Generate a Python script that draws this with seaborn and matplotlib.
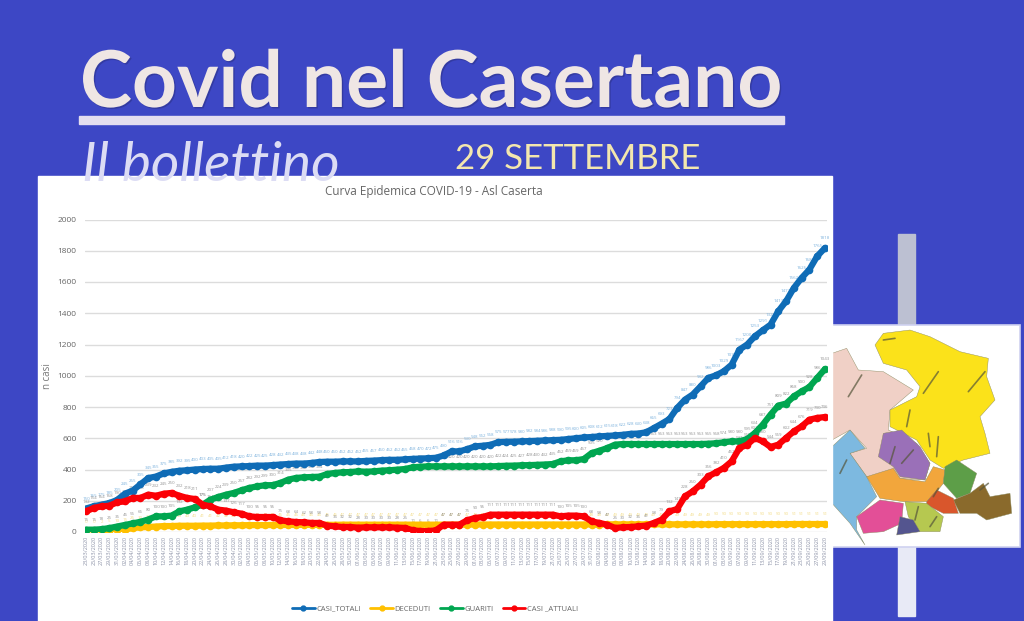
import pandas as pd
import seaborn as sns
from matplotlib import pyplot as plt
from matplotlib.patches import Polygon, Rectangle
import matplotlib.patheffects as pe

# values, one every 2 days
date_labels = list(pd.date_range("2020-03-23", periods=96, freq="2D").strftime("%d/%m/%Y"))

casi_totali = [150, 165, 175, 185, 205, 245, 265, 305, 345, 355,
               375, 385, 392, 395, 400, 403, 405, 405, 412, 418,
               420, 422, 425, 425, 428, 432, 435, 438, 438, 442,
               448, 450, 450, 452, 452, 452, 455, 457, 460, 462,
               462, 465, 468, 470, 472, 475, 490, 516, 516, 530,
               548, 552, 558, 575, 577, 578, 580, 582, 584, 586,
               588, 590, 595, 600, 605, 608, 612, 615, 618, 622,
               628, 630, 638, 665, 693, 723, 794, 847, 880, 932,
               986, 1003, 1029, 1071, 1167, 1200, 1253, 1291, 1327, 1413,
               1477, 1562, 1626, 1680, 1765, 1818]
deceduti = [0, 0, 2, 5, 10, 15, 25, 30, 32, 35,
            38, 38, 40, 40, 40, 41, 41, 42, 42, 43,
            43, 44, 44, 44, 45, 45, 45, 45, 46, 46,
            46, 46, 46, 47, 47, 47, 47, 47, 47, 47,
            47, 47, 47, 47, 47, 47, 47, 47, 47, 47,
            48, 48, 48, 48, 48, 48, 48, 48, 48, 48,
            48, 48, 48, 48, 48, 48, 48, 49, 49, 49,
            49, 49, 49, 49, 49, 49, 49, 49, 49, 49,
            49, 50, 50, 50, 50, 50, 50, 50, 50, 50,
            50, 51, 51, 51, 51, 51]
guariti = [15, 15, 18, 25, 35, 45, 55, 65, 80, 100,
           100, 105, 132, 143, 158, 175, 207, 224, 239, 250,
           267, 282, 292, 299, 300, 314, 335, 346, 350, 352,
           354, 371, 378, 382, 384, 388, 386, 388, 393, 395,
           399, 403, 414, 418, 420, 420, 420, 420, 420, 420,
           420, 420, 420, 422, 424, 425, 427, 428, 430, 432,
           435, 452, 459, 459, 467, 505, 520, 537, 559, 563,
           563, 563, 563, 563, 563, 563, 563, 563, 563, 563,
           565, 568, 574, 580, 580, 595, 634, 687, 751, 809,
           822, 868, 900, 928, 986, 1043]
casi_attuali = [132, 154, 164, 168, 190, 196, 218, 218, 239, 232,
                245, 250, 232, 218, 211, 175, 164, 143, 137, 126,
                117, 100, 96, 96, 96, 75, 68, 64, 62, 58,
                58, 41, 36, 32, 32, 28, 30, 30, 30, 30,
                28, 26, 11, 6, 6, 11, 47, 47, 47, 75,
                90, 96, 111, 111, 111, 111, 111, 111, 111, 111,
                111, 100, 105, 105, 100, 68, 58, 47, 26, 30,
                32, 36, 41, 58, 79, 132, 147, 228, 260, 303,
                356, 382, 410, 452, 537, 559, 602, 580, 544, 559,
                602, 644, 676, 719, 730, 736]

y_ticks = [0, 200, 400, 600, 800, 1000, 1200, 1400, 1600, 1800, 2000]

series = {"CASI_TOTALI": casi_totali, "DECEDUTI": deceduti, "GUARITI": guariti, "CASI _ATTUALI": casi_attuali}
line_colors = {"CASI_TOTALI": "#0f6cb6", "DECEDUTI": "#ffc000", "GUARITI": "#00a650", "CASI _ATTUALI": "#fb0006"}
label_colors = {"CASI_TOTALI": "#7fb3dd", "DECEDUTI": "#f3dd8c", "GUARITI": "#969696", "CASI _ATTUALI": "#969696"}

df = pd.concat([pd.DataFrame({"giorno": range(len(v)), "casi": v, "serie": k}) for k, v in series.items()])

W, H = 1024, 621
BLUE = "#3d47c5"

sns.set_theme(style="white")
plt.rcParams["font.family"] = ["Open Sans", "DejaVu Sans"]

fig = plt.figure(figsize=(W / 100, H / 100), dpi=100, facecolor=BLUE)

# background layer in pixel coordinates
bg = fig.add_axes([0, 0, 1, 1], zorder=0)
bg.set_xlim(0, W)
bg.set_ylim(H, 0)
bg.axis("off")

bg.text(80, 107, "Covid nel Casertano", family="Lato", weight="bold", fontsize=56.5, color="#efe6e4",
        path_effects=[pe.withSimplePatchShadow(offset=(1, -1), shadow_rgbFace="#2a2f80", alpha=0.5)])
bg.add_patch(Rectangle((79, 116), 705, 8, color="#e4deef"))
bg.text(82, 181, "Il bollettino", family="Lato", style="italic", fontsize=39.5, color="#dcdcf4")
bg.text(455, 169, "29 SETTEMBRE", family="Lato", fontsize=25, color="#f3e7ae")

# post and map panel on the right
bg.add_patch(Rectangle((898, 234), 17, 92, color="#bcc0d2"))
bg.add_patch(Rectangle((898, 546), 17, 70, color="#e8eaf6"))
bg.add_patch(Rectangle((832, 325), 188, 222, facecolor="white", edgecolor="#cfd2f0", lw=1.2))

map_areas = [
    ("#f0d0c6", [(6, 370), (50, 355), (85, 420), (160, 425), (250, 480), (180, 540), (175, 600), (260, 640), (300, 700),
                 (285, 750), (110, 740), (60, 670), (110, 655), (60, 600), (6, 630)]),
    ("#fbe21a", [(135, 345), (160, 310), (240, 300), (300, 320), (390, 365), (475, 385), (470, 440), (495, 510), (450, 560),
                 (465, 610), (480, 670), (400, 690), (340, 715), (300, 690), (260, 630), (180, 590), (180, 540), (260, 500),
                 (270, 470), (230, 420), (160, 400)]),
    ("#7db9e0", [(6, 650), (60, 600), (105, 655), (60, 670), (110, 740), (140, 800), (80, 860), (80, 900), (105, 945),
                 (60, 880), (6, 820)]),
    ("#9a70b8", [(160, 610), (215, 600), (270, 650), (300, 700), (285, 750), (210, 740), (190, 710), (145, 680)]),
    ("#f2a63c", [(110, 740), (190, 715), (210, 745), (285, 755), (310, 710), (345, 720), (340, 760), (320, 785), (290, 815),
                 (220, 815), (150, 805)]),
    ("#5d9e48", [(345, 710), (380, 690), (440, 730), (420, 790), (380, 805), (340, 760)]),
    ("#8a6a2c", [(420, 790), (460, 760), (480, 800), (540, 790), (545, 850), (470, 870), (440, 850), (390, 850), (370, 810)]),
    ("#d9562c", [(290, 815), (320, 780), (370, 805), (385, 850), (340, 850), (290, 825)]),
    ("#e34f97", [(80, 860), (150, 810), (220, 820), (215, 880), (160, 905), (100, 910)]),
    ("#b6c850", [(225, 815), (290, 820), (340, 860), (330, 905), (270, 905), (235, 860)]),
    ("#54558f", [(210, 860), (250, 870), (270, 905), (200, 915)]),
]
for color, pts in map_areas:
    bg.add_patch(Polygon([(830 + x / 3, 230 + y / 3) for x, y in pts], facecolor=color,
                         edgecolor="#8a8a60", lw=0.3))

# town names on the map are unreadable, just dark strokes
map_strokes = [(55, 500, 95, 435), (280, 490, 325, 425), (415, 485, 465, 425), (230, 590, 240, 540), (300, 650, 295, 610),
               (320, 680, 325, 620), (180, 700, 195, 650), (215, 700, 250, 660), (30, 730, 50, 690), (310, 800, 325, 775),
               (450, 780, 475, 760), (255, 870, 265, 830), (300, 890, 320, 860), (160, 330, 195, 325)]
for x0, y0, x1, y1 in map_strokes:
    bg.plot([830 + x0 / 3, 830 + x1 / 3], [230 + y0 / 3, 230 + y1 / 3], color="#55553a", lw=1.2, alpha=0.7)

# white chart panel
bg.add_patch(Rectangle((38, 176), 794, 445, color="white"))

ax = fig.add_axes([85 / W, (H - 532) / H, 742 / W, 312.5 / H], zorder=1)
ax.patch.set_alpha(0)

sns.lineplot(data=df, x="giorno", y="casi", hue="serie", palette=line_colors, style="serie",
             markers={k: "o" for k in series}, dashes=False, linewidth=4.5, markersize=5.5,
             markeredgewidth=0, ax=ax, legend=False, zorder=3)

for name, values in series.items():
    for i, v in enumerate(values):
        ax.annotate(str(v), (i, v), xytext=(0, 7), textcoords="offset points", ha="center", va="center",
                    fontsize=3.2, color=label_colors[name], zorder=2)

ax.set_xlim(-0.13, 95.26)
ax.set_ylim(0, 2000)
ax.set_yticks(y_ticks)
ax.set_xticks(range(len(date_labels)))
ax.set_xticklabels(date_labels, rotation=90, fontsize=4, color="#8d93a8")
ax.tick_params(axis="y", labelsize=6, labelcolor="#666666", length=0, pad=6)
ax.tick_params(axis="x", length=0, pad=3)
ax.grid(axis="y", color="#dcdcdc", lw=1)
ax.grid(axis="x", visible=False)
ax.set_axisbelow(True)
sns.despine(ax=ax, left=True, top=True, right=True, bottom=True)
ax.set_xlabel("")
ax.set_ylabel("n casi", fontsize=7, color="#777777", labelpad=3)

fig.text(434 / W, 1 - 191 / H, "Curva Epidemica COVID-19 - Asl Caserta", ha="center", va="center",
         fontsize=8.5, color="#666666", zorder=5)

handles = [plt.Line2D([], [], color=line_colors[k], lw=2, marker="o", markersize=3.5) for k in series]
fig.legend(handles, list(series), loc="center", bbox_to_anchor=(435 / W, 1 - 609 / H), ncol=4, frameon=False,
           fontsize=5.5, labelcolor="#666666", handlelength=3, columnspacing=1.2, handletextpad=0.2)

fig.savefig("out.png", dpi=100, facecolor=BLUE)
